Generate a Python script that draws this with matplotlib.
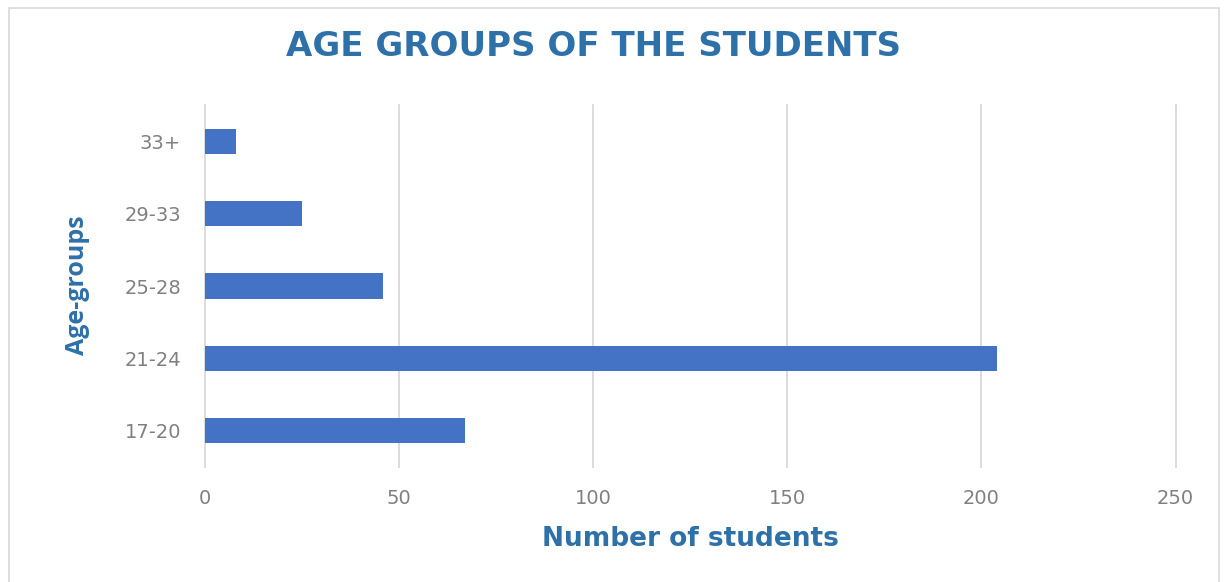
import matplotlib
matplotlib.use("Agg")
import matplotlib.pyplot as plt
from matplotlib.patches import Rectangle

# Data
age_groups = ["17-20", "21-24", "25-28", "29-33", "33+"]
students = [67, 204, 46, 25, 8]
x_ticks = [0, 50, 100, 150, 200, 250]

W, H = 1228, 582
fig = plt.figure(figsize=(W / 100, H / 100), dpi=100)
fig.patch.set_facecolor("white")

# Outer chart frame
fig.patches.append(Rectangle((9 / W, -0.01), (1219 - 9) / W, 1 - 8 / H + 0.01,
                             transform=fig.transFigure, fill=False,
                             edgecolor="#d9d9d9", linewidth=1.2))

left, right = 204.5, 1175.5
top, bottom = 105, 467
ax = fig.add_axes([left / W, 1 - bottom / H, (right - left) / W, (bottom - top) / H])

title_color = "#2e70a8"
tick_color = "#808080"

ax.barh(range(len(age_groups)), students, height=0.35, color="#4472c4", zorder=3)
ax.set_ylim(-0.5, len(age_groups) - 0.5)
ax.set_xlim(0, 250)
ax.set_xticks(x_ticks)
ax.set_yticks(range(len(age_groups)))
ax.set_yticklabels(age_groups)
ax.grid(axis="x", color="#d9d9d9", linewidth=1.3, zorder=0)
for gl in ax.get_xgridlines():
    gl.set_clip_on(False)
for s in ax.spines.values():
    s.set_visible(False)
ax.tick_params(axis="both", length=0, labelsize=14, labelcolor=tick_color)
ax.tick_params(axis="x", pad=16)
ax.tick_params(axis="y", pad=17)
for lab in ax.get_xticklabels() + ax.get_yticklabels():
    lab.set_fontfamily("DejaVu Sans")

# Axis titles
fig.text(690 / W, 1 - 539 / H, "Number of students", ha="center", va="center",
         fontsize=19, fontweight="bold", color=title_color, fontfamily="DejaVu Sans")
fig.text(77 / W, 1 - 285 / H, "Age-groups", ha="center", va="center", rotation=90,
         fontsize=18, fontweight="bold", color=title_color, fontfamily="Open Sans")

# Chart title
fig.text(594 / W, 1 - 46 / H, "AGE GROUPS OF THE STUDENTS", ha="center", va="center",
         fontsize=24.5, fontweight="bold", color=title_color, fontfamily="DejaVu Sans")

fig.savefig("out.png", dpi=100, facecolor="white")
